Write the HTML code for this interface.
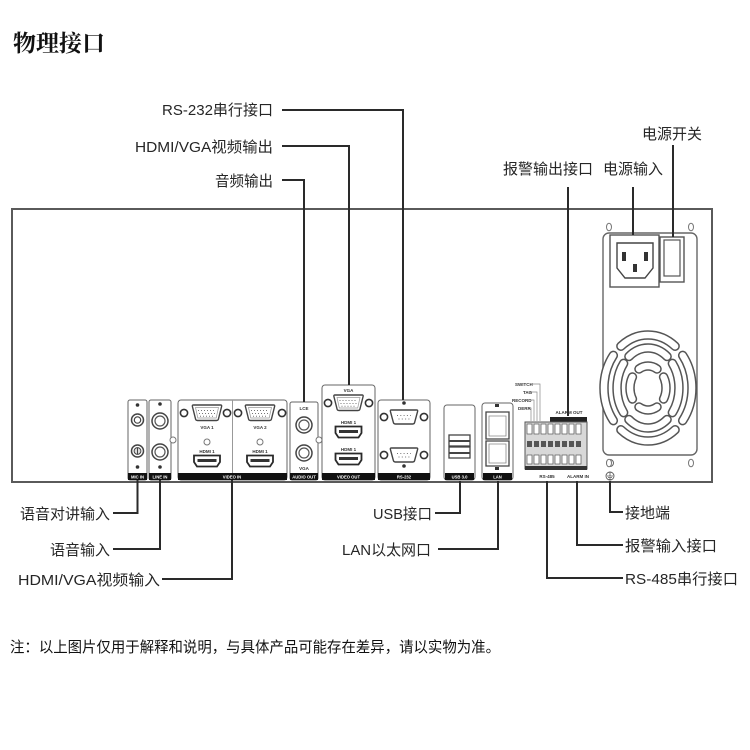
<!DOCTYPE html>
<html>
<head>
<meta charset="utf-8">
<style>
  html,body{margin:0;padding:0;background:#fff;}
  body{width:750px;height:750px;overflow:hidden;}
  svg{display:block;}
  .lbl{font-family:"Liberation Sans","Noto Sans CJK SC",sans-serif;font-size:15px;fill:#262626;}
  .tiny{font-family:"Liberation Sans",sans-serif;font-size:4.5px;font-weight:bold;fill:#333;}
  .tinyw{font-family:"Liberation Sans",sans-serif;font-size:4.2px;font-weight:bold;fill:#fff;}
</style>
</head>
<body>
<svg width="750" height="750" viewBox="0 0 750 750" xmlns="http://www.w3.org/2000/svg">
  <defs>
    <g id="vga">
      <path d="M-13.5 -8 H13.5 Q15 -8 14.6 -6.5 L11.4 6.2 Q11 7.5 9.5 7.5 H-9.5 Q-11 7.5 -11.4 6.2 L-14.6 -6.5 Q-15 -8 -13.5 -8 Z" fill="#fff" stroke="#444" stroke-width="1.4"/>
      <path d="M-11.5 -5.5 H11.5 L9.2 5 H-9.2 Z" fill="none" stroke="#999" stroke-width="0.7"/>
      <line x1="-9" y1="-2.5" x2="9" y2="-2.5" stroke="#777" stroke-width="1" stroke-dasharray="1 2"/>
      <line x1="-8" y1="0.5" x2="8" y2="0.5" stroke="#777" stroke-width="1" stroke-dasharray="1 2"/>
      <line x1="-7" y1="3.2" x2="7" y2="3.2" stroke="#777" stroke-width="1" stroke-dasharray="1 2"/>
    </g>
    <g id="db9">
      <path d="M-12.5 -7 H12.5 Q14 -7 13.6 -5.6 L10.6 5.6 Q10.2 7 8.8 7 H-8.8 Q-10.2 7 -10.6 5.6 L-13.6 -5.6 Q-14 -7 -12.5 -7 Z" fill="#fff" stroke="#444" stroke-width="1.4"/>
      <line x1="-7" y1="-1.5" x2="7" y2="-1.5" stroke="#777" stroke-width="1" stroke-dasharray="1 2.3"/>
      <line x1="-5.5" y1="2" x2="5.5" y2="2" stroke="#777" stroke-width="1" stroke-dasharray="1 2.3"/>
    </g>
    <g id="hdmi">
      <path d="M-13 -5.5 H13 V1 L10 5.5 H-10 L-13 1 Z" fill="#fff" stroke="#2a2a2a" stroke-width="1.8"/>
      <rect x="-9.5" y="-2" width="19" height="3" fill="#333"/>
    </g>
    <g id="screw">
      <circle r="3.6" fill="#fff" stroke="#333" stroke-width="1.6"/>
    </g>
  </defs>

  <!-- Title -->
  <text x="13" y="51" font-family="'Noto Serif CJK SC','Noto Sans CJK SC',serif" font-size="23" font-weight="700" fill="#111" textLength="92" lengthAdjust="spacingAndGlyphs">物理接口</text>

  <!-- Panel -->
  <rect x="12" y="209" width="700" height="273" fill="none" stroke="#5a5a5a" stroke-width="2"/>

  <!-- MIC IN -->
  <rect x="128" y="400" width="19" height="80" rx="2" fill="#fff" stroke="#666" stroke-width="1"/>
  <circle cx="137.5" cy="405" r="1.8" fill="#333"/>
  <circle cx="137.5" cy="420" r="6" fill="#fff" stroke="#444" stroke-width="1.5"/>
  <circle cx="137.5" cy="420" r="3.2" fill="#fff" stroke="#444" stroke-width="1.2"/>
  <circle cx="137.5" cy="451" r="6" fill="#fff" stroke="#444" stroke-width="1.5"/>
  <circle cx="137.5" cy="451" r="3.4" fill="#ddd" stroke="#444" stroke-width="1"/>
  <line x1="137.5" y1="448" x2="137.5" y2="454" stroke="#444" stroke-width="1"/>
  <circle cx="137.5" cy="467" r="1.8" fill="#333"/>
  <rect x="128" y="473" width="19" height="7" fill="#111"/>
  <text x="137.5" y="478.5" class="tinyw" text-anchor="middle">MIC IN</text>

  <!-- LINE IN -->
  <rect x="149" y="400" width="22" height="80" rx="2" fill="#fff" stroke="#666" stroke-width="1"/>
  <circle cx="160" cy="404" r="1.8" fill="#333"/>
  <circle cx="160" cy="421" r="8" fill="#fff" stroke="#444" stroke-width="1.5"/>
  <circle cx="160" cy="421" r="5" fill="#fff" stroke="#555" stroke-width="1.2"/>
  <circle cx="160" cy="452" r="8" fill="#fff" stroke="#444" stroke-width="1.5"/>
  <circle cx="160" cy="452" r="5" fill="#fff" stroke="#555" stroke-width="1.2"/>
  <circle cx="160" cy="467" r="1.8" fill="#333"/>
  <circle cx="173" cy="440" r="3" fill="#fff" stroke="#777" stroke-width="1"/>
  <rect x="149" y="473" width="22" height="7" fill="#111"/>
  <text x="160" y="478.5" class="tinyw" text-anchor="middle">LINE IN</text>

  <!-- VIDEO IN -->
  <rect x="178" y="400" width="109" height="80" rx="3" fill="#fff" stroke="#666" stroke-width="1"/>
  <line x1="232.5" y1="400" x2="232.5" y2="473" stroke="#999" stroke-width="1"/>
  <use href="#screw" x="184" y="413"/>
  <use href="#vga" x="207" y="413"/>
  <use href="#screw" x="227" y="413"/>
  <text x="207" y="429" class="tiny" text-anchor="middle">VGA 1</text>
  <circle cx="207" cy="442" r="3" fill="#fff" stroke="#777" stroke-width="1"/>
  <text x="207" y="453" class="tiny" text-anchor="middle">HDMI 1</text>
  <use href="#hdmi" x="207" y="461"/>
  <use href="#screw" x="238" y="413"/>
  <use href="#vga" x="260" y="413"/>
  <use href="#screw" x="282" y="413"/>
  <text x="260" y="429" class="tiny" text-anchor="middle">VGA 2</text>
  <circle cx="260" cy="442" r="3" fill="#fff" stroke="#777" stroke-width="1"/>
  <text x="260" y="453" class="tiny" text-anchor="middle">HDMI 1</text>
  <use href="#hdmi" x="260" y="461"/>
  <rect x="178" y="473" width="109" height="7" fill="#111"/>
  <text x="232" y="478.5" class="tinyw" text-anchor="middle">VIDEO IN</text>

  <!-- AUDIO OUT -->
  <rect x="290" y="402" width="28" height="78" rx="2" fill="#fff" stroke="#666" stroke-width="1"/>
  <text x="304" y="410" class="tiny" text-anchor="middle">LCE</text>
  <circle cx="304" cy="425" r="8" fill="#fff" stroke="#444" stroke-width="1.5"/>
  <circle cx="304" cy="425" r="5" fill="#fff" stroke="#555" stroke-width="1.2"/>
  <circle cx="304" cy="453" r="8" fill="#fff" stroke="#444" stroke-width="1.5"/>
  <circle cx="304" cy="453" r="5" fill="#fff" stroke="#555" stroke-width="1.2"/>
  <circle cx="319" cy="440" r="3" fill="#fff" stroke="#777" stroke-width="1"/>
  <text x="304" y="470" class="tiny" text-anchor="middle">VGA</text>
  <rect x="290" y="473" width="28" height="7" fill="#111"/>
  <text x="304" y="478.5" class="tinyw" text-anchor="middle">AUDIO OUT</text>

  <!-- VIDEO OUT -->
  <rect x="322" y="385" width="53" height="95" rx="3" fill="#fff" stroke="#666" stroke-width="1"/>
  <text x="348.5" y="392" class="tiny" text-anchor="middle">VGA</text>
  <use href="#screw" x="328" y="403"/>
  <use href="#vga" x="348.5" y="403"/>
  <use href="#screw" x="369" y="403"/>
  <text x="348.5" y="424" class="tiny" text-anchor="middle">HDMI 1</text>
  <use href="#hdmi" x="348.5" y="432"/>
  <text x="348.5" y="451" class="tiny" text-anchor="middle">HDMI 1</text>
  <use href="#hdmi" x="348.5" y="459"/>
  <rect x="322" y="473" width="53" height="7" fill="#111"/>
  <text x="348.5" y="478.5" class="tinyw" text-anchor="middle">VIDEO OUT</text>

  <!-- RS-232 -->
  <rect x="378" y="400" width="52" height="80" rx="3" fill="#fff" stroke="#666" stroke-width="1"/>
  <circle cx="404" cy="403" r="1.8" fill="#333"/>
  <use href="#screw" x="384" y="417"/>
  <use href="#db9" x="404" y="417"/>
  <use href="#screw" x="424" y="417"/>
  <use href="#screw" x="384" y="455"/>
  <use href="#db9" x="404" y="455"/>
  <use href="#screw" x="424" y="455"/>
  <circle cx="404" cy="466" r="1.8" fill="#333"/>
  <rect x="378" y="473" width="52" height="7" fill="#111"/>
  <text x="404" y="478.5" class="tinyw" text-anchor="middle">RS-232</text>

  <!-- USB 3.0 -->
  <rect x="444" y="405" width="31" height="75" rx="3" fill="#fff" stroke="#666" stroke-width="1"/>
  <rect x="449" y="435" width="21" height="11" fill="#fff" stroke="#444" stroke-width="1.3"/>
  <rect x="449" y="440" width="21" height="2" fill="#444"/>
  <rect x="449" y="447" width="21" height="11" fill="#fff" stroke="#444" stroke-width="1.3"/>
  <rect x="449" y="452" width="21" height="2" fill="#444"/>
  <rect x="445" y="473" width="29" height="7" fill="#111"/>
  <text x="459.5" y="478.5" class="tinyw" text-anchor="middle">USB 3.0</text>

  <!-- LAN -->
  <rect x="482" y="403" width="31" height="77" rx="3" fill="#fff" stroke="#666" stroke-width="1"/>
  <rect x="495" y="404" width="4" height="3" fill="#333"/>
  <path d="M486 412 H509 V439 H486 Z" fill="#fff" stroke="#444" stroke-width="1.3"/>
  <path d="M489 416 H506 V436 H489 Z" fill="#fff" stroke="#888" stroke-width="0.8"/>
  <path d="M486 441 H509 V466 H486 Z" fill="#fff" stroke="#444" stroke-width="1.3"/>
  <path d="M489 444 H506 V463 H489 Z" fill="#fff" stroke="#888" stroke-width="0.8"/>
  <rect x="495" y="467" width="4" height="3" fill="#333"/>
  <rect x="483" y="473" width="29" height="7" fill="#111"/>
  <text x="497.5" y="478.5" class="tinyw" text-anchor="middle">LAN</text>

  <!-- Alarm terminal block -->
  <text x="515" y="386" class="tiny" font-size="4">SWITCH</text>
  <text x="523" y="394" class="tiny" font-size="4">TAG</text>
  <text x="512" y="402" class="tiny" font-size="4">RECORD</text>
  <text x="518" y="410" class="tiny" font-size="4">DERR</text>
  <path d="M531 384 H540 V421 M528 392 H537 V421 M531 400 H534 V421 M530 408 H531 V421" fill="none" stroke="#888" stroke-width="0.7"/>
  <text x="569" y="414" class="tiny" text-anchor="middle" font-size="4">ALARM OUT</text>
  <rect x="550" y="417" width="37" height="5" fill="#222"/>
  <rect x="525" y="422" width="62" height="47" fill="#d8d8d8" stroke="#555" stroke-width="1"/>
  <g fill="#fff" stroke="#555" stroke-width="0.7">
    <rect x="527" y="424" width="5" height="10"/><rect x="534" y="424" width="5" height="10"/><rect x="541" y="424" width="5" height="10"/><rect x="548" y="424" width="5" height="10"/><rect x="555" y="424" width="5" height="10"/><rect x="562" y="424" width="5" height="10"/><rect x="569" y="424" width="5" height="10"/><rect x="576" y="424" width="5" height="10"/>
    <rect x="527" y="455" width="5" height="9"/><rect x="534" y="455" width="5" height="9"/><rect x="541" y="455" width="5" height="9"/><rect x="548" y="455" width="5" height="9"/><rect x="555" y="455" width="5" height="9"/><rect x="562" y="455" width="5" height="9"/><rect x="569" y="455" width="5" height="9"/><rect x="576" y="455" width="5" height="9"/>
  </g>
  <g fill="#555">
    <rect x="527" y="441" width="5" height="6"/><rect x="534" y="441" width="5" height="6"/><rect x="541" y="441" width="5" height="6"/><rect x="548" y="441" width="5" height="6"/><rect x="555" y="441" width="5" height="6"/><rect x="562" y="441" width="5" height="6"/><rect x="569" y="441" width="5" height="6"/><rect x="576" y="441" width="5" height="6"/>
  </g>
  <rect x="525" y="466" width="62" height="4" fill="#333"/>
  <text x="547" y="478" class="tiny" text-anchor="middle" font-size="4">RS-485</text>
  <text x="578" y="478" class="tiny" text-anchor="middle" font-size="4">ALARM IN</text>

  <!-- Ground -->
  <circle cx="610" cy="463" r="3.5" fill="#fff" stroke="#666" stroke-width="1"/>
  <circle cx="610" cy="476" r="4" fill="#fff" stroke="#555" stroke-width="0.9"/>
  <path d="M610 472.5 V476 M607 476 H613 M608 477.6 H612 M609 479 H611" stroke="#555" stroke-width="0.8"/>

  <!-- PSU -->
  <ellipse cx="609" cy="227" rx="2.5" ry="3.8" fill="#fff" stroke="#777" stroke-width="1"/>
  <ellipse cx="691" cy="227" rx="2.5" ry="3.8" fill="#fff" stroke="#777" stroke-width="1"/>
  <ellipse cx="609" cy="463" rx="2.5" ry="3.8" fill="#fff" stroke="#777" stroke-width="1"/>
  <ellipse cx="691" cy="463" rx="2.5" ry="3.8" fill="#fff" stroke="#777" stroke-width="1"/>
  <rect x="603" y="233" width="94" height="222" rx="6" fill="none" stroke="#666" stroke-width="1.4"/>
  <rect x="610" y="235" width="49" height="52" fill="#fff" stroke="#555" stroke-width="1.4"/>
  <path d="M617 243 H653 V268 L645 278 H625 L617 268 Z" fill="#fff" stroke="#444" stroke-width="1.4"/>
  <rect x="622" y="252" width="4" height="9" fill="#333"/>
  <rect x="644" y="252" width="4" height="9" fill="#333"/>
  <rect x="633" y="264" width="4" height="8" fill="#333"/>
  <rect x="660" y="237" width="24" height="45" fill="#fff" stroke="#555" stroke-width="1.4"/>
  <rect x="664" y="240" width="16" height="36" fill="#fff" stroke="#555" stroke-width="1.2"/>

  <!-- Fan grill -->
  <g fill="none" stroke-linecap="round">
    <g stroke="#555" stroke-width="9.5">
      <path d="M620.9 346.2 A44 53 0 0 1 675.1 346.2"/>
      <path d="M682.7 355.4 A44 53 0 0 1 682.7 420.6"/>
      <path d="M675.1 429.8 A44 53 0 0 1 620.9 429.8"/>
      <path d="M613.3 420.6 A44 53 0 0 1 613.3 355.4"/>
      <path d="M628.9 356.5 A31 40 0 0 1 667.1 356.5"/>
      <path d="M672.4 363.4 A31 40 0 0 1 672.4 412.6"/>
      <path d="M667.1 419.5 A31 40 0 0 1 628.9 419.5"/>
      <path d="M623.6 412.6 A31 40 0 0 1 623.6 363.4"/>
      <path d="M639 369 A18 22 0 0 1 657 369"/>
      <path d="M663.6 377 A18 22 0 0 1 663.6 399"/>
      <path d="M657 407 A18 22 0 0 1 639 407"/>
      <path d="M632.4 399 A18 22 0 0 1 632.4 377"/>
    </g>
    <g stroke="#fff" stroke-width="6.5">
      <path d="M620.9 346.2 A44 53 0 0 1 675.1 346.2"/>
      <path d="M682.7 355.4 A44 53 0 0 1 682.7 420.6"/>
      <path d="M675.1 429.8 A44 53 0 0 1 620.9 429.8"/>
      <path d="M613.3 420.6 A44 53 0 0 1 613.3 355.4"/>
      <path d="M628.9 356.5 A31 40 0 0 1 667.1 356.5"/>
      <path d="M672.4 363.4 A31 40 0 0 1 672.4 412.6"/>
      <path d="M667.1 419.5 A31 40 0 0 1 628.9 419.5"/>
      <path d="M623.6 412.6 A31 40 0 0 1 623.6 363.4"/>
      <path d="M639 369 A18 22 0 0 1 657 369"/>
      <path d="M663.6 377 A18 22 0 0 1 663.6 399"/>
      <path d="M657 407 A18 22 0 0 1 639 407"/>
      <path d="M632.4 399 A18 22 0 0 1 632.4 377"/>
    </g>
  </g>

  <!-- Connector lines -->
  <g fill="none" stroke="#2a2a2a" stroke-width="2">
    <path d="M282 110 H403 V400"/>
    <path d="M282 146 H349 V385"/>
    <path d="M282 180 H304 V402"/>
    <path d="M568 187 V416"/>
    <path d="M633 187 V235"/>
    <path d="M673 145 V237"/>
    <path d="M137.5 480 V513 H113"/>
    <path d="M160 480 V549 H113"/>
    <path d="M232 480 V579 H162"/>
    <path d="M460 481 V513 H435"/>
    <path d="M498 481 V549 H438"/>
    <path d="M547 481 V578 H623"/>
    <path d="M577 481 V545 H623"/>
    <path d="M610 481 V512 H623"/>
  </g>

  <!-- Labels -->
  <text class="lbl" x="273" y="115" text-anchor="end" textLength="111" lengthAdjust="spacingAndGlyphs">RS-232串行接口</text>
  <text class="lbl" x="273" y="152" text-anchor="end" textLength="138" lengthAdjust="spacingAndGlyphs">HDMI/VGA视频输出</text>
  <text class="lbl" x="273" y="186" text-anchor="end" textLength="58" lengthAdjust="spacingAndGlyphs">音频输出</text>
  <text class="lbl" x="642" y="139" textLength="60" lengthAdjust="spacingAndGlyphs">电源开关</text>
  <text class="lbl" x="503" y="174" textLength="90" lengthAdjust="spacingAndGlyphs">报警输出接口</text>
  <text class="lbl" x="603" y="174" textLength="60" lengthAdjust="spacingAndGlyphs">电源输入</text>

  <text class="lbl" x="110" y="519" text-anchor="end" textLength="90" lengthAdjust="spacingAndGlyphs">语音对讲输入</text>
  <text class="lbl" x="110" y="555" text-anchor="end" textLength="60" lengthAdjust="spacingAndGlyphs">语音输入</text>
  <text class="lbl" x="160" y="585" text-anchor="end" textLength="142" lengthAdjust="spacingAndGlyphs">HDMI/VGA视频输入</text>
  <text class="lbl" x="432" y="519" text-anchor="end" textLength="59" lengthAdjust="spacingAndGlyphs">USB接口</text>
  <text class="lbl" x="431" y="555" text-anchor="end" textLength="89" lengthAdjust="spacingAndGlyphs">LAN以太网口</text>
  <text class="lbl" x="625" y="518" textLength="45" lengthAdjust="spacingAndGlyphs">接地端</text>
  <text class="lbl" x="625" y="551" textLength="92" lengthAdjust="spacingAndGlyphs">报警输入接口</text>
  <text class="lbl" x="625" y="584" textLength="113" lengthAdjust="spacingAndGlyphs">RS-485串行接口</text>

  <!-- Note -->
  <text x="10" y="652" font-family="'Liberation Sans','Noto Sans CJK SC',sans-serif" font-size="15" fill="#111" textLength="490" lengthAdjust="spacingAndGlyphs">注：以上图片仅用于解释和说明，与具体产品可能存在差异，请以实物为准。</text>
</svg>
</body>
</html>
